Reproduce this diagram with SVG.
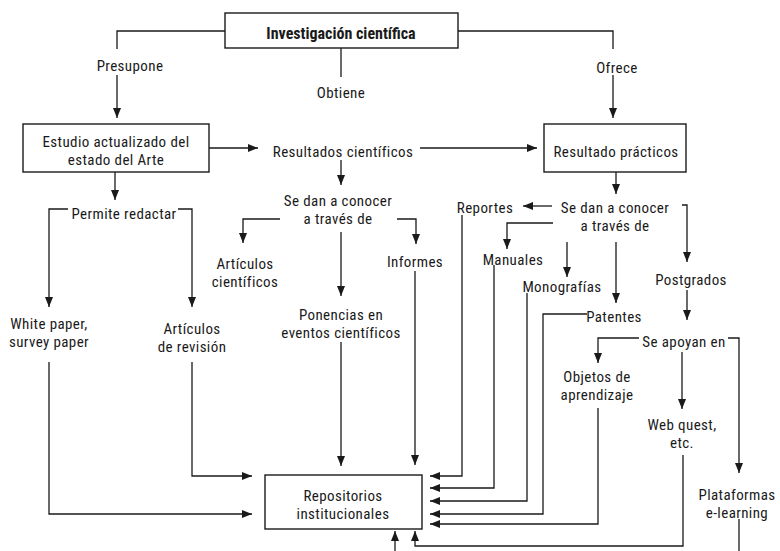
<svg xmlns="http://www.w3.org/2000/svg" width="780" height="551" viewBox="0 0 780 551">
<defs>
<marker id="ah" markerUnits="userSpaceOnUse" markerWidth="11" markerHeight="9" refX="10" refY="4" orient="auto">
<path d="M0,0 L10,4 L0,8 z" fill="#1a1a1a"/>
</marker>
<style>
text{font-family:"Liberation Sans Narrow","Roboto Condensed","Liberation Sans",Arial,sans-serif;font-size:15px;letter-spacing:0.4px;fill:#1a1a1a;text-anchor:middle}
.b{font-weight:bold;font-size:16px;letter-spacing:0}
.box{fill:#fff;stroke:#1a1a1a;stroke-width:1.4}
.c path{fill:none;stroke:#1a1a1a;stroke-width:1.3}
.a{marker-end:url(#ah)}
</style>
</defs>
<rect width="780" height="551" fill="#fff"/>
<g class="c" id="connectors">
<path d="M225,31 H117 V49"/>
<path class="a" d="M117,75 V118"/>
<path d="M341,48 V77"/>
<path d="M458,31 H613 V49"/>
<path class="a" d="M613,75 V118"/>
<path class="a" d="M209,148 H258"/>
<path class="a" d="M420,148 H537"/>
<path class="a" d="M341,160 V185"/>
<path class="a" d="M115,172 V200"/>
<path class="a" d="M68,209 H49 V307"/>
<path class="a" d="M178,209 H192 V307"/>
<path class="a" d="M280,219 H243 V243"/>
<path class="a" d="M341,232 V296"/>
<path class="a" d="M397,219 H416 V244"/>
<path class="a" d="M49,362 V514 H252"/>
<path class="a" d="M192,362 V476 H252"/>
<path class="a" d="M341,342 V466"/>
<path class="a" d="M415,271 V465"/>
<path class="a" d="M616,172 V194"/>
<path class="a" d="M552,206 H523"/>
<path class="a" d="M553,223 H507 V249"/>
<path class="a" d="M567,242 V277"/>
<path class="a" d="M616,242 V303"/>
<path class="a" d="M682,205 H687 V262"/>
<path class="a" d="M687,290 V320"/>
<path class="a" d="M639,338 H598 V363"/>
<path class="a" d="M728,338 H739 V473"/>
<path class="a" d="M682,352 V409"/>
<path class="a" d="M462,215 V476 H430"/>
<path class="a" d="M494,265 V488 H430"/>
<path class="a" d="M527,293 V501 H430"/>
<path class="a" d="M587,314 H543 V514 H430"/>
<path class="a" d="M598,408 V524 H430"/>
<path class="a" d="M683,455 V546 H415 V531"/>
<path d="M739,519 V551"/>
<path class="a" d="M395,551 V531"/>
</g>
<g id="investigacion">
<rect class="box" x="225" y="13" width="233" height="35"/>
<text class="b" x="341" y="39">Investigación científica</text>
</g>
<g id="presupone"><text x="130" y="71">Presupone</text></g>
<g id="obtiene"><text x="341" y="98">Obtiene</text></g>
<g id="ofrece"><text x="617" y="73">Ofrece</text></g>
<g id="estudio">
<rect class="box" x="23" y="124" width="186" height="48"/>
<text x="116" y="147">Estudio actualizado del<tspan x="116" dy="18">estado del Arte</tspan></text>
</g>
<g id="resultados-cientificos"><text x="343" y="157">Resultados científicos</text></g>
<g id="resultado-practicos">
<rect class="box" x="544" y="124" width="142" height="48"/>
<text x="616" y="157">Resultado prácticos</text>
</g>
<g id="permite"><text x="124" y="219">Permite redactar</text></g>
<g id="se-dan-1"><text x="338" y="206">Se dan a conocer<tspan x="338" dy="18">a través de</tspan></text></g>
<g id="articulos-cientificos"><text x="245" y="269">Artículos<tspan x="245" dy="18">científicos</tspan></text></g>
<g id="informes"><text x="415" y="267">Informes</text></g>
<g id="white-paper"><text x="49" y="329">White paper,<tspan x="49" dy="18">survey paper</tspan></text></g>
<g id="articulos-revision"><text x="192" y="334">Artículos<tspan x="192" dy="18">de revisión</tspan></text></g>
<g id="ponencias"><text x="341" y="320">Ponencias en<tspan x="341" dy="18">eventos científicos</tspan></text></g>
<g id="repositorios">
<rect class="box" x="265" y="475" width="157" height="54"/>
<text x="343" y="501">Repositorios<tspan x="343" dy="18">institucionales</tspan></text>
</g>
<g id="reportes"><text x="485" y="213">Reportes</text></g>
<g id="se-dan-2"><text x="615" y="213">Se dan a conocer<tspan x="615" dy="18">a través de</tspan></text></g>
<g id="manuales"><text x="513" y="265">Manuales</text></g>
<g id="monografias"><text x="562" y="292">Monografías</text></g>
<g id="patentes"><text x="614" y="322">Patentes</text></g>
<g id="postgrados"><text x="691" y="285">Postgrados</text></g>
<g id="se-apoyan"><text x="684" y="347">Se apoyan en</text></g>
<g id="objetos"><text x="597" y="382">Objetos de<tspan x="597" dy="18">aprendizaje</tspan></text></g>
<g id="webquest"><text x="682" y="430">Web quest,<tspan x="682" dy="18">etc.</tspan></text></g>
<g id="plataformas"><text x="737" y="500">Plataformas<tspan x="737" dy="18">e-learning</tspan></text></g>
</svg>
